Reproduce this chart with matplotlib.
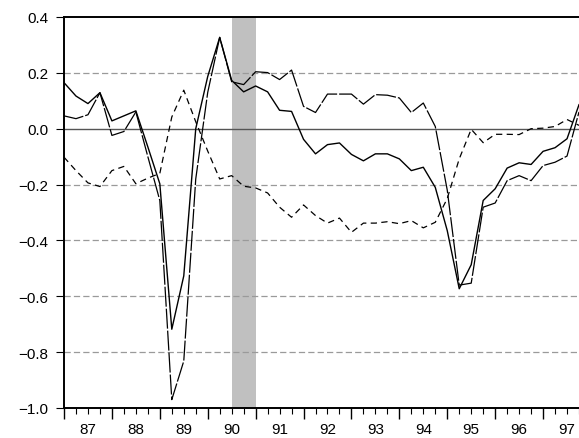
import matplotlib
matplotlib.use("Agg")
import matplotlib.pyplot as plt
import numpy as np

plt.rcParams["font.family"] = ["Liberation Sans", "DejaVu Sans"]

# quarterly observations, 1987Q1 .. 1997Q4
series_solid = [
    0.165, 0.117, 0.090, 0.129,
    0.028, 0.046, 0.064, -0.065,
    -0.197, -0.718, -0.527, 0.000,
    0.187, 0.327, 0.173, 0.132,
    0.153, 0.132, 0.066, 0.062,
    -0.038, -0.090, -0.057, -0.051,
    -0.092, -0.115, -0.090, -0.090,
    -0.108, -0.150, -0.138, -0.210,
    -0.365, -0.573, -0.487, -0.257,
    -0.215, -0.141, -0.122, -0.128,
    -0.081, -0.068, -0.036, 0.086,
]
series_longdash = [
    0.046, 0.036, 0.050, 0.129,
    -0.024, -0.010, 0.060, -0.100,
    -0.257, -0.970, -0.832, -0.180,
    0.130, 0.327, 0.168, 0.158,
    0.204, 0.201, 0.176, 0.210,
    0.080, 0.058, 0.124, 0.124,
    0.124, 0.088, 0.122, 0.120,
    0.110, 0.058, 0.092, 0.008,
    -0.220, -0.560, -0.553, -0.281,
    -0.266, -0.186, -0.168, -0.186,
    -0.132, -0.120, -0.098, 0.060,
]
series_shortdash = [
    -0.102, -0.150, -0.194, -0.207,
    -0.150, -0.135, -0.197, -0.177,
    -0.160, 0.042, 0.138, 0.025,
    -0.080, -0.180, -0.168, -0.206,
    -0.212, -0.230, -0.281, -0.317,
    -0.273, -0.311, -0.338, -0.320,
    -0.371, -0.338, -0.338, -0.333,
    -0.340, -0.329, -0.355, -0.335,
    -0.250, -0.108, -0.002, -0.050,
    -0.020, -0.020, -0.021, 0.000,
    0.002, 0.008, 0.033, 0.012,
]
years = [1987, 1988, 1989, 1990, 1991, 1992, 1993, 1994, 1995, 1996, 1997]
year_labels = ["87", "88", "89", "90", "91", "92", "93", "94", "95", "96", "97"]
y_ticks = [0.4, 0.2, 0.0, -0.2, -0.4, -0.6, -0.8, -1.0]
grid_levels = [0.2, -0.2, -0.4, -0.6, -0.8]
recession = (1990.5, 1991.0)

t = years[0] + np.arange(len(series_solid)) * 0.25

fig = plt.figure(figsize=(5.79, 4.39), dpi=100)
ax = fig.add_axes([64 / 579, 30 / 439, 515 / 579, 391 / 439])

ax.axvspan(*recession, color="#c0c0c0", lw=0, zorder=0)
for lev in grid_levels:
    ax.axhline(lev, color="#9a9a9a", lw=0.9, dashes=(5, 2.5), zorder=1)
ax.axhline(0.0, color="#555555", lw=1.0, zorder=1)

ax.plot(t, series_solid, color="black", lw=1.0, zorder=3)
ax.plot(t, series_longdash, color="black", lw=0.9, dashes=(16, 1.6), zorder=3)
ax.plot(t, series_shortdash, color="black", lw=0.9, dashes=(5, 3.5), zorder=3)

ax.set_xlim(1987.0, 1987.0 + 515 / 48)
ax.set_ylim(-1.0, 0.4)
ax.set_yticks(y_ticks)

# year boundaries as long ticks, quarters as short ticks, labels mid-year
ax.set_xticks(years, [""] * len(years))
minor_pos = []
minor_lab = []
for y, lab in zip(years, year_labels):
    for q, text in ((0.25, ""), (0.5, lab), (0.75, "")):
        minor_pos.append(y + q)
        minor_lab.append(text)
ax.set_xticks(minor_pos, minor_lab, minor=True)

ax.tick_params(axis="x", which="major", direction="out", length=8, width=1.0)
ax.tick_params(axis="x", which="minor", direction="out", length=4, width=0.8,
               pad=6, labelsize=11)
ax.tick_params(axis="y", direction="out", length=6, width=0.8, pad=5,
               labelsize=11)

for side in ("left", "bottom", "top"):
    ax.spines[side].set_linewidth(1.4)
ax.spines["right"].set_visible(False)

fig.savefig("out.png", dpi=100)
